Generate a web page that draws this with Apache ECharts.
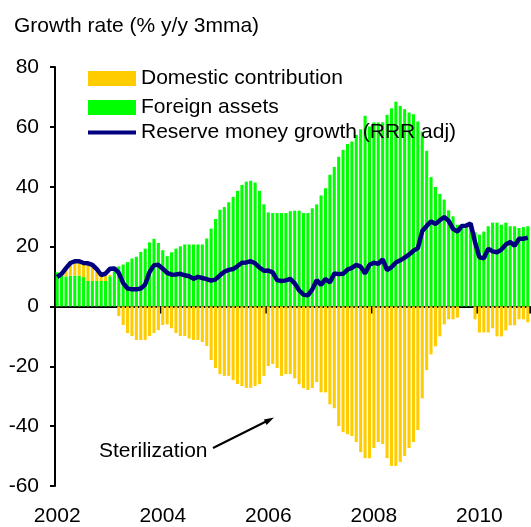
<!DOCTYPE html>
<html>
<head>
<meta charset="utf-8">
<script src="https://cdn.jsdelivr.net/npm/echarts@6/dist/echarts.min.js"></script>
<style>
  html, body { margin: 0; padding: 0; background: #fff; }
  #chart { width: 531px; height: 527px; }
</style>
</head>
<body>
<div id="chart"></div>
<script>
// monthly, Jan 2002 - Dec 2010
const years = ['2002', '2003', '2004', '2005', '2006', '2007', '2008', '2009', '2010'];
const months = [];
years.forEach(y => { for (let m = 1; m <= 12; m++) months.push(y + '-' + (m < 10 ? '0' + m : m)); });

const tickYears = ['2002', '2004', '2006', '2008', '2010'];

// foreign assets contribution (green bars)
const foreignAssets = [
  11.4, 10.3, 10.0, 10.3, 10.3, 10.3, 9.8, 8.5, 8.5, 8.5, 8.5, 8.5,
  10.1, 11.7, 13.4, 14.0, 14.8, 16.0, 16.6, 18.2, 19.3, 21.4, 22.6, 21.2,
  18.8, 16.8, 18.1, 19.3, 20.1, 20.7, 20.7, 20.7, 20.7, 20.7, 22.7, 26.0,
  29.2, 32.3, 33.2, 34.8, 36.6, 38.6, 40.6, 41.7, 42.0, 41.4, 38.6, 34.1,
  31.4, 31.2, 31.2, 31.2, 31.2, 31.8, 32.0, 32.0, 31.2, 31.2, 32.8, 34.1,
  37.1, 39.5, 44.0, 46.6, 50.0, 52.3, 54.3, 55.1, 57.3, 59.2, 63.7, 60.1,
  61.5, 61.5, 61.5, 64.0, 66.2, 68.4, 67.0, 65.9, 64.8, 64.2, 61.8, 58.4,
  52.0, 43.2, 39.9, 37.6, 35.7, 32.1, 30.1, 27.3, 26.8, 27.0, 27.9, 24.8,
  24.0, 25.0, 26.8, 28.0, 28.0, 27.3, 28.0, 26.8, 26.8, 26.2, 26.5, 26.8
];

// domestic contribution (orange bars)
const domestic = [
  0, 0.6, 2.8, 4.2, 4.8, 4.8, 4.7, 5.9, 5.4, 4.0, 2.0, 1.8,
  0.5, 0, -3.2, -6.2, -8.9, -9.9, -11.2, -11.2, -11.2, -9.9, -8.9, -7.9,
  -6.2, -6.0, -7.3, -8.9, -9.9, -9.9, -10.7, -11.2, -11.2, -11.9, -13.2, -17.9,
  -20.6, -22.6, -23.2, -23.2, -24.6, -25.9, -26.6, -27.2, -27.2, -26.6, -25.9, -23.2,
  -19.9, -19.2, -20.6, -23.2, -22.6, -22.6, -24.0, -26.0, -27.3, -27.9, -27.3, -25.3,
  -28.7, -28.7, -32.7, -34.0, -40.0, -42.0, -42.7, -43.3, -45.3, -48.7, -50.7, -50.7,
  -47.3, -45.3, -46.0, -50.7, -53.3, -53.3, -52.0, -50.0, -47.3, -45.3, -41.3, -30.7,
  -21.3, -16.0, -13.3, -10.0, -6.0, -4.3, -4.3, -3.7, 0, 0, 0, -4.3,
  -8.7, -8.7, -8.7, -7.3, -10.0, -10.0, -8.0, -6.3, -6.3, -4.3, -4.3, -5.3
];

// reserve money growth, RRR adjusted (line)
const reserveMoney = [
  9.8, 10.9, 12.8, 14.5, 15.1, 15.1, 14.5, 14.4, 13.9, 12.5, 10.5, 11.0,
  12.6, 12.7, 11.2, 7.8, 6.0, 5.7, 5.7, 6.0, 7.3, 11.5, 13.8, 13.9,
  12.6, 11.2, 10.6, 10.7, 10.9, 10.4, 10.1, 9.2, 9.9, 9.5, 9.1, 8.6,
  9.0, 10.4, 11.6, 12.2, 12.5, 13.5, 14.6, 14.7, 15.1, 14.4, 13.0, 11.9,
  12.0, 11.4, 8.8, 8.5, 8.7, 9.2, 7.7, 5.4, 3.9, 3.7, 5.7, 8.8,
  7.2, 9.2, 8.0, 11.0, 10.8, 10.9, 12.3, 12.9, 13.9, 13.3, 11.0, 13.9,
  14.6, 14.2, 15.7, 12.1, 13.1, 14.7, 15.4, 16.3, 17.3, 18.6, 19.5, 25.2,
  26.9, 28.4, 27.5, 28.8, 29.9, 28.6, 25.9, 25.0, 26.9, 27.0, 27.7, 21.5,
  16.4, 16.1, 19.3, 18.4, 18.1, 19.0, 20.7, 21.5, 20.3, 22.6, 22.6, 23.0
];

const FONT = '"Liberation Sans", Arial, sans-serif';
const FS = 21;

const chart = echarts.init(document.getElementById('chart'));

// one legend per entry so each row can sit where the original puts it
function legendRow(item, top) {
  return {
    orient: 'vertical',
    left: 83,
    top: top,
    itemWidth: 48,
    itemHeight: 15,
    textStyle: { fontFamily: FONT, fontSize: FS, color: '#000', lineHeight: 21 },
    data: [item]
  };
}

const option = {
  animation: false,
  textStyle: { fontFamily: FONT },
  title: {
    text: 'Growth rate (% y/y 3mma)',
    left: 9,
    top: 11,
    textStyle: { fontFamily: FONT, fontSize: FS, fontWeight: 'normal', color: '#000' }
  },
  legend: [
    legendRow({ name: 'Domestic contribution', icon: 'rect' }, 63),
    legendRow({ name: 'Foreign assets', icon: 'rect' }, 92),
    legendRow({ name: 'Reserve money growth (RRR adj)', icon: 'path://M0,0h48v4h-48z', itemStyle: { color: '#000080' } }, 117)
  ],
  grid: { left: 55, top: 67, width: 475, height: 420, containLabel: false },
  xAxis: [
    {
      type: 'category',
      data: months,
      boundaryGap: true,
      axisLine: { onZero: true, lineStyle: { color: '#000', width: 2 } },
      axisTick: { show: true, length: 7, interval: i => i % 24 === 0, lineStyle: { color: '#000', width: 2 } },
      axisLabel: { show: false },
      splitLine: { show: false }
    },
    {
      type: 'category',
      data: months,
      position: 'bottom',
      boundaryGap: true,
      axisLine: { show: false, onZero: false },
      axisTick: { show: false },
      axisLabel: {
        interval: i => i % 24 === 0,
        formatter: v => tickYears.indexOf(v.slice(0, 4)) >= 0 ? v.slice(0, 4) : '',
        fontFamily: FONT, fontSize: FS, color: '#000', margin: 20
      },
      splitLine: { show: false }
    }
  ],
  yAxis: {
    type: 'value',
    min: -60,
    max: 80,
    interval: 20,
    axisLine: { show: true, lineStyle: { color: '#000', width: 2 } },
    axisTick: { show: true, length: 5, lineStyle: { color: '#000', width: 2 } },
    axisLabel: { fontFamily: FONT, fontSize: FS, color: '#000', margin: 16 },
    splitLine: { show: false }
  },
  series: [
    {
      name: 'Foreign assets',
      type: 'bar',
      stack: 'contrib',
      data: foreignAssets,
      barCategoryGap: '30%',
      itemStyle: { color: '#00ff00' }
    },
    {
      name: 'Domestic contribution',
      type: 'bar',
      stack: 'contrib',
      data: domestic,
      barCategoryGap: '30%',
      itemStyle: { color: '#ffcc00' }
    },
    {
      name: 'Reserve money growth (RRR adj)',
      type: 'line',
      data: reserveMoney,
      symbol: 'none',
      z: 5,
      lineStyle: { color: '#000080', width: 4.5 },
      itemStyle: { color: '#000080' }
    }
  ],
  graphic: [
    {
      type: 'text',
      left: 99,
      top: 441,
      style: { text: 'Sterilization', font: FS + 'px ' + FONT, fill: '#000' }
    },
    {
      type: 'line',
      shape: { x1: 213, y1: 448, x2: 267, y2: 421 },
      style: { stroke: '#000', lineWidth: 2 }
    },
    {
      type: 'polygon',
      shape: { points: [[274, 417.5], [266.6, 425], [263.9, 419.5]] },
      style: { fill: '#000' }
    }
  ]
};

chart.setOption(option);
</script>
</body>
</html>
